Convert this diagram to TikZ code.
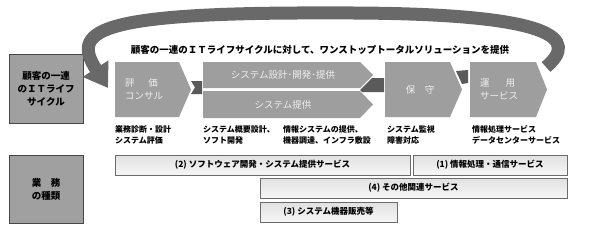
\documentclass[tikz,border=0pt]{standalone}
\usepackage{fontspec}
\setmainfont{Noto Sans CJK JP}
\usepackage{xcolor}
\usepackage{tikz}
\usetikzlibrary{positioning, arrows.meta}
\definecolor{ChevGray}{RGB}{158,158,158}
\definecolor{SideGray}{RGB}{160,160,160}
\definecolor{LinkGray}{RGB}{90,90,90}
\definecolor{LoopGray}{RGB}{105,105,105}
\definecolor{BarGray}{RGB}{205,205,205}
\definecolor{EdgeGray}{RGB}{70,70,70}
\definecolor{ChevText}{RGB}{240,240,240}
\tikzset{
  chev/.style={fill=ChevGray},
  link/.style={fill=LinkGray},
  sidebox/.style={draw=EdgeGray, fill=SideGray, line width=1pt},
  bar/.style={draw=EdgeGray!80, top color=BarGray!60, bottom color=BarGray!120!black, line width=0.8pt},
  chevtxt/.style={text=ChevText, font=\fontsize{9.5}{12.5}\selectfont, align=left, inner sep=0pt},
  captxt/.style={font=\fontsize{8}{11}\selectfont\bfseries, align=left, anchor=north west, inner sep=0pt},
  bartxt/.style={font=\fontsize{8.5}{10}\selectfont\bfseries, inner sep=0pt},
  sidetxt/.style={font=\fontsize{9.5}{13}\selectfont\bfseries, align=center, inner sep=0pt}
}

\begin{document}
\begin{tikzpicture}[x=1pt, y=-1pt, >=Stealth]
  \useasboundingbox (0,0) rectangle (591,230);
  % side boxes
  \draw[sidebox] (9,55) rectangle (83,123);
  \node[sidetxt] (lifecycle) at (46,89) {顧客の一連\\のＩＴライフ\\サイクル};
  \draw[sidebox] (9,155) rectangle (83,223);
  \node[sidetxt] (kinds) at (46,189) {業　務\\の種類};
  % chevrons
  \fill[chev] (115,62) -- (179,62) -- (191,89.5) -- (179,117) -- (115,117) -- cycle;
  \fill[chev] (203,62) -- (360,62) -- (373,75) -- (360,88) -- (203,88) -- cycle;
  \fill[chev] (203,91) -- (360,91) -- (373,104.5) -- (360,118) -- (203,118) -- cycle;
  \fill[chev] (385,62) -- (450,62) -- (462,89.5) -- (450,117) -- (385,117) -- cycle;
  \fill[chev] (470,62) -- (536,62) -- (547,89.5) -- (536,117) -- (470,117) -- cycle;
  % dark links
  \fill[link] (191,81) -- (202,81) -- (202,94) -- (191,94) -- (195,87.5) -- cycle;
  \fill[link] (360,90) -- (372,78) -- (384,78) -- (384,92) -- (362,92) -- cycle;
  \fill[link] (456,71) -- (468,70) -- (468,83) -- (462,84) -- cycle;
  % chevron texts
  \node[chevtxt, anchor=west] (consult) at (125,89) {評　\ \ 価\\コンサル};
  \node[chevtxt] (design) at (283,75) {システム設計･開発･提供};
  \node[chevtxt] (supply) at (283,104.5) {システム提供};
  \node[chevtxt] (maint) at (420,89.5) {保　守};
  \node[chevtxt, anchor=west] (operate) at (480,89.5) {運　\ \ \ 用\\サービス};
  % loop arrow
  \coordinate (loopstart) at (546,67);
  \coordinate (loopend) at (108,88);
  \draw[LoopGray, line width=13pt, -{Triangle[width=29pt, length=23pt]}]
    (loopstart) .. controls (578,40) and (562,12) .. (330,13)
    .. controls (90,12) and (72,32) .. (loopend);
  \node[font=\fontsize{9.5}{11}\selectfont\bfseries, inner sep=0pt] (onestop) at (320,50)
    {顧客の一連のＩＴライフサイクルに対して、ワンストップトータルソリューションを提供};
  % captions
  \node[captxt] (cap1) at (115,125) {業務診断・設計\\システム評価};
  \node[captxt] (cap2) at (203,125) {システム概要設計、\\ソフト開発};
  \node[captxt] (cap3) at (283,125) {情報システムの提供、\\機器調達、インフラ敷設};
  \node[captxt] (cap4) at (387,125) {システム監視\\障害対応};
  \node[captxt] (cap5) at (472,125) {情報処理サービス\\データセンターサービス};
  % service bars
  \draw[bar] (115,155) rectangle (410,175);
  \node[bartxt] (svc2) at (262.5,165) {(2) ソフトウェア開発・システム提供サービス};
  \draw[bar] (413,155) rectangle (567,175);
  \node[bartxt] (svc1) at (490,165) {(1) 情報処理・通信サービス};
  \draw[bar] (260,178) rectangle (567,198);
  \node[bartxt] (svc4) at (413.5,188) {(4) その他関連サービス};
  \draw[bar] (260,202) rectangle (397,222);
  \node[bartxt] (svc3) at (328.5,212) {(3) システム機器販売等};
\end{tikzpicture}
\end{document}
